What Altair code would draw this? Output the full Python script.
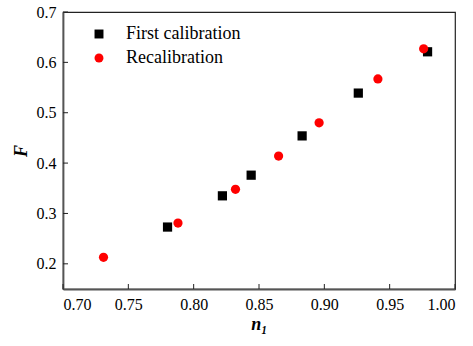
import altair as alt
import pandas as pd

series_first = "First calibration"
series_recal = "Recalibration"

first_n1 = [0.780, 0.822, 0.844, 0.883, 0.926, 0.979]
first_F = [0.273, 0.335, 0.376, 0.454, 0.539, 0.621]

recal_n1 = [0.731, 0.788, 0.832, 0.865, 0.896, 0.941, 0.976]
recal_F = [0.213, 0.281, 0.348, 0.414, 0.480, 0.567, 0.627]

x_ticks = [0.70, 0.75, 0.80, 0.85, 0.90, 0.95, 1.00]
y_ticks = [0.2, 0.3, 0.4, 0.5, 0.6, 0.7]

W, H = 392, 277
FONT = "Liberation Serif"

df = pd.DataFrame(
    {"n1": first_n1 + recal_n1,
     "F": first_F + recal_F,
     "series": [series_first] * len(first_n1) + [series_recal] * len(recal_n1),
     "order": list(range(len(first_n1) + len(recal_n1)))}
)

xscale = alt.Scale(domain=[0.70, 1.00], nice=False, zero=False)
yscale = alt.Scale(domain=[0.15, 0.70], nice=False, zero=False)

points = alt.Chart(df).mark_point(filled=True, opacity=1, size=85, strokeWidth=0).encode(
    x=alt.X("n1:Q", scale=xscale,
            axis=alt.Axis(values=x_ticks, format=".2f", title="n₁", tickSize=0,
                          labelFont=FONT, titleFont=FONT,
                          labelPadding=7, titlePadding=3, grid=False)),
    y=alt.Y("F:Q", scale=yscale,
            axis=alt.Axis(values=y_ticks, format=".1f", title="F", tickSize=0,
                          labelFont=FONT, titleFont=FONT,
                          labelPadding=7, titlePadding=6, grid=False)),
    color=alt.Color("series:N",
                    scale=alt.Scale(domain=[series_first, series_recal], range=["black", "red"]),
                    legend=alt.Legend(title=None, orient="none", legendX=27, legendY=13,
                                      symbolSize=80, labelFont=FONT, labelFontSize=18,
                                      labelColor="black", rowPadding=6, labelOffset=18,
                                      padding=0)),
    shape=alt.Shape("series:N",
                    scale=alt.Scale(domain=[series_first, series_recal], range=["square", "circle"]),
                    legend=None),
    order="order:Q",
)

xt = pd.DataFrame({"v": x_ticks})
yt = pd.DataFrame({"v": y_ticks})

xtick_rules = alt.Chart(xt).mark_rule(color="#222", strokeWidth=1).encode(
    x=alt.X("v:Q", scale=xscale), y=alt.value(H), y2=alt.value(H - 5)
)
ytick_rules = alt.Chart(yt).mark_rule(color="#222", strokeWidth=1).encode(
    y=alt.Y("v:Q", scale=yscale), x=alt.value(0), x2=alt.value(5)
)

chart = alt.layer(points, xtick_rules, ytick_rules).properties(
    width=W, height=H,
    autosize=alt.AutoSizeParams(type="none"),
    padding={"left": 63, "top": 12, "right": 18, "bottom": 57},
).configure_view(
    stroke="#222", strokeWidth=1.2
).configure_axis(
    labelFont=FONT, labelFontSize=16, labelColor="black",
    titleFont=FONT, titleFontSize=18, titleFontStyle="italic", titleFontWeight="bold",
    titleColor="black", domainColor="#555", domainWidth=1.8,
)

chart.save("out.html", embed_options={"renderer": "svg", "actions": False})
